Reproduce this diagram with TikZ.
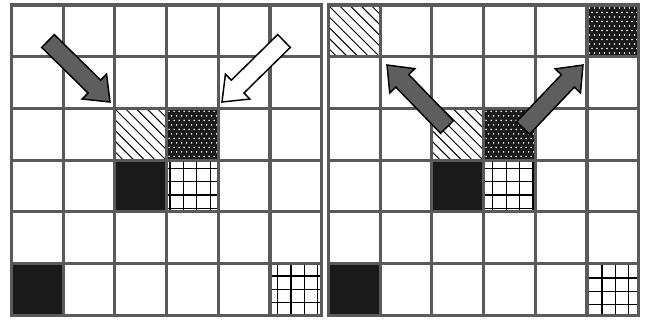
\documentclass[tikz,border=0pt]{standalone}
\usetikzlibrary{calc}
\definecolor{gridgray}{HTML}{5A5A5A}
\definecolor{arrowgray}{HTML}{5E5E5E}
\definecolor{cellblack}{HTML}{1A1A1A}
\tikzset{
  gridline/.style={draw=gridgray, line width=2.3pt},
  hatchline/.style={draw=black, line width=0.7pt},
  meshline/.style={draw=black, line width=0.9pt},
  grayarrow/.style={fill=arrowgray, draw=black, line width=1.1pt, line join=miter},
  whitearrow/.style={fill=white, draw=black, line width=1.1pt, line join=miter},
}
% cell size 51.7 px; 1 px = 0.75pt
\newcommand{\cellsolid}[2]{\fill[cellblack] (#1,#2) rectangle ++(51.7,51.7);}
\newcommand{\cellhatch}[2]{%
  \begin{scope}
    \clip (#1,#2) rectangle ++(51.7,51.7);
    \fill[white] (#1,#2) rectangle ++(51.7,51.7);
    \foreach \c in {-54,-43.3,...,56} {\draw[hatchline] ({#1+\c},#2) -- ++(60,60);}
  \end{scope}}
\newcommand{\celldots}[2]{%
  \begin{scope}
    \clip (#1,#2) rectangle ++(51.7,51.7);
    \fill[cellblack] (#1,#2) rectangle ++(51.7,51.7);
    \foreach \j in {0,...,11} {\foreach \i in {0,...,10} {%
      \fill[white] ({#1+2.5+5*\i+2.5*mod(\j,2)},{#2+3+4.5*\j}) circle[radius=0.85];}}
  \end{scope}}
\newcommand{\cellmesh}[4]{%
  \begin{scope}
    \clip (#1,#2) rectangle ++(51.7,51.7);
    \fill[white] (#1,#2) rectangle ++(51.7,51.7);
    \foreach \k in {-1,...,4} {%
      \draw[meshline] ({#1+#3+13.4*\k},#2) -- ++(0,51.7);
      \draw[meshline] (#1,{#2+#4+13.4*\k}) -- ++(51.7,0);}
  \end{scope}}
\newcommand{\boardlines}[1]{%
  \foreach \i in {1,...,5} {%
    \draw[gridline] ({#1+\i*51.7},5) -- ({#1+\i*51.7},315.2);
    \draw[gridline] (#1,{5+\i*51.7}) -- ({#1+310.2},{5+\i*51.7});}
  \draw[gridline, line join=miter] (#1,5) rectangle ({#1+310.2},315.2);}
\newcommand{\blockarrow}[3]{%
  \coordinate (#2neck) at ($(#3)!16.5pt!(#2)$);
  \path[#1] ($(#2)!6.75pt!90:(#3)$) -- ($(#2neck)!6.75pt!90:(#3)$)
    -- ($(#2neck)!13.1pt!90:(#3)$) -- (#3)
    -- ($(#2neck)!13.1pt!-90:(#3)$) -- ($(#2neck)!6.75pt!-90:(#3)$)
    -- ($(#2)!6.75pt!-90:(#3)$) -- cycle;}
\begin{document}
\begin{tikzpicture}[x=0.75pt, y=-0.75pt]
\useasboundingbox (0,0) rectangle (646,322);
\fill[white] (0,0) rectangle (646,322);
% ---------- left board (origin x=11.5) ----------
\cellhatch{114.9}{108.4}
\celldots{166.6}{108.4}
\cellsolid{114.9}{160.1}
\cellmesh{166.6}{160.1}{3.4}{8}
\cellsolid{11.5}{263.5}
\cellmesh{270}{263.5}{7.6}{12.5}
\boardlines{11.5}
% ---------- right board (origin x=328.5) ----------
\cellhatch{328.5}{5}
\celldots{587}{5}
\cellhatch{431.9}{108.4}
\celldots{483.6}{108.4}
\cellsolid{431.9}{160.1}
\cellmesh{483.6}{160.1}{9.2}{8}
\cellsolid{328.5}{263.5}
\cellmesh{587}{263.5}{15}{14.5}
\boardlines{328.5}
% ---------- arrows ----------
\coordinate (aTail) at (48,41);   \coordinate (aTip) at (110,102);
\coordinate (bTail) at (284,41);  \coordinate (bTip) at (222,102);
\coordinate (cTail) at (447,127); \coordinate (cTip) at (387,65);
\coordinate (dTail) at (523,128); \coordinate (dTip) at (583,65);
\blockarrow{grayarrow}{aTail}{aTip}
\blockarrow{whitearrow}{bTail}{bTip}
\blockarrow{grayarrow}{cTail}{cTip}
\blockarrow{grayarrow}{dTail}{dTip}
\end{tikzpicture}
\end{document}
